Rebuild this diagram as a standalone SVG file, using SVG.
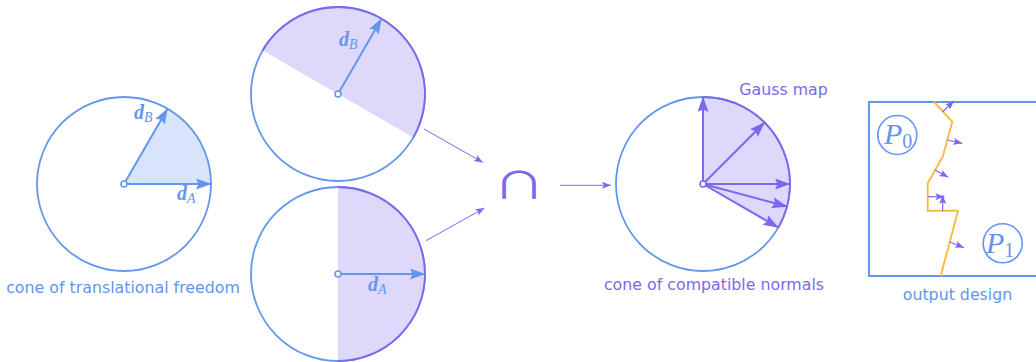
<svg xmlns="http://www.w3.org/2000/svg" width="1036" height="362" viewBox="0 0 1036 362">
<style>
.lbl{font-family:"DejaVu Sans","Noto Sans",sans-serif;font-size:15.8px}
.b{fill:#6495ed}.p{fill:#7b68ee}
.circ{fill:none;stroke:#6495ed;stroke-width:1.8}
.parc{fill:none;stroke:#7b68ee;stroke-width:1.8}
.vec{stroke:#6495ed;stroke-width:2;fill:none;marker-end:url(#hb)}
.pvec{stroke:#7b68ee;stroke-width:2;fill:none;marker-end:url(#hp)}
.conn{stroke:#7b68ee;stroke-width:1;fill:none;marker-end:url(#hs)}
.nrm{stroke:#7b68ee;stroke-width:1.2;fill:none;marker-end:url(#hn)}
.ctr{fill:#fff;stroke-width:1.5}
.math{font-family:"Liberation Serif","DejaVu Serif",serif}
.dv{font-size:20px;font-style:italic;font-weight:bold}
.sub{font-size:14px;font-weight:normal}
</style>
<defs>
<marker id="hb" markerUnits="userSpaceOnUse" markerWidth="17" markerHeight="13" refX="15" refY="5.5" orient="auto"><path d="M0,0 L15.5,5.5 L0,11 L2.5,5.5 z" fill="#6495ed"/></marker>
<marker id="hp" markerUnits="userSpaceOnUse" markerWidth="17" markerHeight="13" refX="15" refY="5.5" orient="auto"><path d="M0,0 L15.5,5.5 L0,11 L2.5,5.5 z" fill="#7b68ee"/></marker>
<marker id="hs" markerUnits="userSpaceOnUse" markerWidth="10" markerHeight="8" refX="9" refY="3.5" orient="auto"><path d="M0,0 L9,3.5 L0,7 L2,3.5 z" fill="#7b68ee"/></marker>
<marker id="hn" markerUnits="userSpaceOnUse" markerWidth="10" markerHeight="8" refX="9" refY="3.5" orient="auto"><path d="M0,0 L9,3.5 L0,7 L2,3.5 z" fill="#7b68ee"/></marker>
</defs>

<g id="translational-cone">
<path d="M124,184 L211,184 A87,87 0 0,0 167.5,108.656 Z" fill="#d8e4fa"/>
<circle class="circ" cx="124" cy="184" r="87"/>
<line class="vec" x1="124" y1="184" x2="167.5" y2="108.7"/>
<line class="vec" x1="124" y1="184" x2="211" y2="184"/>
<circle class="ctr" cx="124" cy="184" r="3" stroke="#6495ed"/>
<text class="math b dv" x="134" y="119">d<tspan class="sub" dy="3">B</tspan></text>
<text class="math b dv" x="177" y="200">d<tspan class="sub" dy="3">A</tspan></text>
<text class="lbl b" x="123" y="293" text-anchor="middle">cone of translational freedom</text>
</g>

<g id="halfspace-B">
<path d="M262.656,50.5 A86,86 0 0,1 413.344,137.5 Z" fill="#ded9fb"/>
<circle class="circ" cx="338" cy="94" r="87"/>
<path class="parc" d="M262.656,50.5 A86,86 0 0,1 413.344,137.5"/>
<line class="vec" x1="338" y1="94" x2="381.5" y2="18.7"/>
<circle class="ctr" cx="338" cy="94" r="3" stroke="#6495ed"/>
<text class="math b dv" x="339" y="46">d<tspan class="sub" dy="3">B</tspan></text>
</g>

<g id="halfspace-A">
<path d="M338,187 A86,86 0 0,1 338,361 Z" fill="#ded9fb"/>
<circle class="circ" cx="338" cy="274" r="87"/>
<path class="parc" d="M338,187 A86,86 0 0,1 338,361"/>
<line class="vec" x1="338" y1="274" x2="425" y2="274"/>
<circle class="ctr" cx="338" cy="274" r="3" stroke="#6495ed"/>
<text class="math b dv" x="368" y="291">d<tspan class="sub" dy="3">A</tspan></text>
</g>

<g id="intersection">
<text transform="translate(519,198.5) scale(1.3,0.93)" x="0" y="0" text-anchor="middle" font-family="Noto Sans CJK JP,DejaVu Sans,sans-serif" font-weight="400" font-size="40" class="p">∩</text>
</g>

<g id="compatible-normals">
<path d="M703,184 L778.344,227.5 A87,87 0 0,0 703,97 Z" fill="#ded9fb"/>
<circle class="circ" cx="703" cy="184" r="87"/>
<path class="parc" d="M778.344,227.5 A87,87 0 0,0 703,97"/>
<line class="pvec" x1="703" y1="184" x2="703" y2="97"/>
<line class="pvec" x1="703" y1="184" x2="764.5" y2="122.5"/>
<line class="pvec" x1="703" y1="184" x2="790" y2="184"/>
<line class="pvec" x1="703" y1="184" x2="787" y2="206.5"/>
<line class="pvec" x1="703" y1="184" x2="778.3" y2="227.5"/>
<circle class="ctr" cx="703" cy="184" r="3" stroke="#7b68ee"/>
<text class="lbl p" x="783.5" y="95" text-anchor="middle">Gauss map</text>
<text class="lbl p" x="714" y="290" text-anchor="middle">cone of compatible normals</text>
</g>

<g id="output-design">
<rect x="869" y="102" width="180" height="174" fill="none" stroke="#6495ed" stroke-width="2"/>
<polyline points="934,102 952.3,121.7 942.7,156.7 927.7,183.3 927.7,210.7 958,210.7 940.7,276" fill="none" stroke="#fbb945" stroke-width="1.9"/>
<line class="nrm" x1="942.7" y1="111.7" x2="954" y2="101"/>
<line class="nrm" x1="947.3" y1="140" x2="962.3" y2="143.3"/>
<line class="nrm" x1="935" y1="170" x2="948.3" y2="177.3"/>
<line class="nrm" x1="927.7" y1="196.7" x2="944.3" y2="196.7"/>
<line class="nrm" x1="942.7" y1="210.7" x2="942.7" y2="195"/>
<line class="nrm" x1="949.3" y1="241.7" x2="964" y2="247.7"/>
<circle cx="897.3" cy="135" r="19.5" fill="none" stroke="#6495ed" stroke-width="1.6"/>
<text class="math b" x="884" y="143.5" font-size="30" font-style="italic">P<tspan font-size="20" font-style="normal" dy="4">0</tspan></text>
<circle cx="1002.7" cy="243.3" r="19.5" fill="none" stroke="#6495ed" stroke-width="1.6"/>
<text class="math b" x="986" y="252.5" font-size="30" font-style="italic">P<tspan font-size="20" font-style="normal" dy="4">1</tspan></text>
<text class="lbl b" x="957.5" y="300" text-anchor="middle">output design</text>
</g>

<g id="connectors">
<line class="conn" x1="424" y1="129" x2="483" y2="162.5"/>
<line class="conn" x1="426" y1="240.7" x2="484.5" y2="208"/>
<line class="conn" x1="560" y1="185.3" x2="611" y2="185.3"/>
</g>
</svg>
